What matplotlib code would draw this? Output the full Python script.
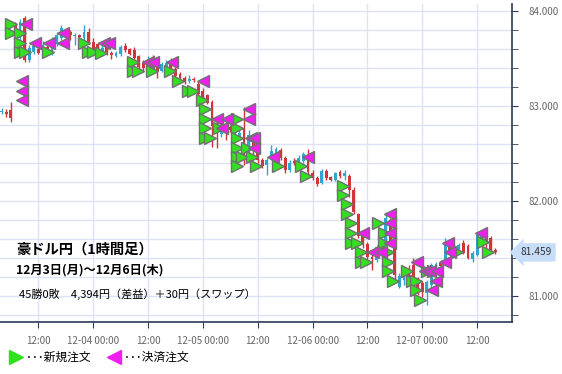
import matplotlib
matplotlib.use('Agg')
import matplotlib.pyplot as plt
from matplotlib.ticker import MultipleLocator, FormatStrFormatter
from matplotlib.transforms import blended_transform_factory
import numpy as np

# 豪ドル円 1時間足 (2018-12-03 04:00 から 1本ずつ)
opens = [82.942, 82.936, 82.958, 83.853, 83.716, 83.926, 83.484, 83.568, 83.600, 83.589,
         83.621, 83.568, 83.653, 83.716, 83.789, 83.779, 83.737, 83.747, 83.716, 83.779,
         83.674, 83.653, 83.558, 83.621, 83.558, 83.526, 83.547, 83.631, 83.600, 83.589,
         83.526, 83.452, 83.410, 83.473, 83.442, 83.368, 83.410, 83.463, 83.389, 83.337,
         83.294, 83.263, 83.284, 83.231, 83.158, 83.116, 83.042, 82.810, 82.705, 82.789,
         82.779, 82.726, 82.673, 82.768, 82.515, 82.642, 82.557, 82.431, 82.378, 82.452,
         82.484, 82.536, 82.452, 82.326, 82.421, 82.400, 82.421, 82.484, 82.294, 82.242,
         82.189, 82.315, 82.252, 82.221, 82.305, 82.263, 82.263, 82.115, 81.863, 81.631,
         81.547, 81.410, 81.378, 81.515, 81.568, 81.799, 81.557, 81.094, 81.168, 81.252,
         81.326, 81.178, 81.136, 81.031, 81.115, 81.305, 81.347, 81.347, 81.557, 81.483,
         81.483, 81.557, 81.525, 81.389, 81.431, 81.557, 81.620, 81.610, 81.483]
highs = [82.979, 82.968, 83.042, 83.884, 83.916, 83.947, 83.642, 83.663, 83.621, 83.684,
         83.653, 83.726, 83.779, 83.853, 83.810, 83.800, 83.768, 83.758, 83.853, 83.821,
         83.716, 83.674, 83.642, 83.642, 83.579, 83.579, 83.642, 83.663, 83.610, 83.621,
         83.537, 83.484, 83.526, 83.537, 83.505, 83.463, 83.484, 83.505, 83.410, 83.358,
         83.316, 83.326, 83.305, 83.252, 83.189, 83.126, 83.063, 82.852, 82.821, 82.831,
         82.800, 82.789, 82.747, 82.989, 82.747, 82.684, 82.589, 82.452, 82.452, 82.589,
         82.568, 82.557, 82.473, 82.431, 82.452, 82.484, 82.515, 82.547, 82.326, 82.263,
         82.336, 82.336, 82.263, 82.305, 82.326, 82.326, 82.284, 82.147, 81.873, 81.652,
         81.568, 81.441, 81.536, 81.631, 81.884, 81.820, 81.589, 81.242, 81.305, 81.326,
         81.399, 81.199, 81.157, 81.168, 81.347, 81.357, 81.378, 81.610, 81.578, 81.547,
         81.557, 81.589, 81.547, 81.473, 81.673, 81.694, 81.652, 81.631, 81.504]
lows = [82.915, 82.884, 82.831, 83.695, 83.695, 83.463, 83.463, 83.547, 83.547, 83.568,
        83.568, 83.537, 83.631, 83.695, 83.747, 83.695, 83.642, 83.705, 83.695, 83.653,
        83.558, 83.568, 83.526, 83.537, 83.495, 83.516, 83.526, 83.568, 83.537, 83.484,
        83.379, 83.358, 83.400, 83.379, 83.294, 83.358, 83.400, 83.379, 83.305, 83.273,
        83.231, 83.242, 83.252, 83.105, 83.073, 83.021, 82.568, 82.557, 82.673, 82.642,
        82.726, 82.694, 82.642, 82.378, 82.473, 82.431, 82.400, 82.347, 82.273, 82.431,
        82.431, 82.431, 82.294, 82.305, 82.378, 82.378, 82.400, 82.273, 82.221, 82.158,
        82.179, 82.221, 82.210, 82.210, 82.242, 82.221, 82.042, 81.863, 81.610, 81.504,
        81.378, 81.273, 81.357, 81.483, 81.547, 81.536, 81.147, 81.084, 81.115, 81.115,
        81.010, 81.010, 80.989, 80.904, 81.062, 81.294, 81.294, 81.326, 81.452, 81.462,
        81.473, 81.441, 81.389, 81.357, 81.420, 81.536, 81.504, 81.452, 81.441]
closes = [82.952, 82.915, 82.873, 83.726, 83.884, 83.484, 83.610, 83.631, 83.558, 83.642,
          83.589, 83.695, 83.747, 83.821, 83.768, 83.747, 83.747, 83.726, 83.779, 83.663,
          83.589, 83.610, 83.610, 83.568, 83.537, 83.558, 83.621, 83.589, 83.547, 83.505,
          83.410, 83.400, 83.484, 83.410, 83.358, 83.442, 83.452, 83.400, 83.316, 83.294,
          83.252, 83.284, 83.273, 83.126, 83.094, 83.031, 82.789, 82.736, 82.779, 82.726,
          82.747, 82.768, 82.715, 82.484, 82.694, 82.536, 82.431, 82.368, 82.431, 82.526,
          82.547, 82.452, 82.326, 82.400, 82.400, 82.452, 82.494, 82.305, 82.242, 82.179,
          82.315, 82.242, 82.221, 82.294, 82.263, 82.294, 82.115, 81.884, 81.631, 81.536,
          81.410, 81.389, 81.515, 81.589, 81.820, 81.557, 81.220, 81.210, 81.273, 81.147,
          81.115, 81.062, 81.041, 81.147, 81.326, 81.336, 81.315, 81.568, 81.473, 81.515,
          81.536, 81.452, 81.399, 81.452, 81.641, 81.652, 81.547, 81.462, 81.459]
first_hour = 4  # 12-03 04:00

# 新規注文 (12-03 00:00 からの経過時間, 価格)
new_hours = [6.0, 6.0, 8.0, 8.0, 8.0, 9.1, 14.1, 22.0, 22.9, 24.0,
             25.7, 32.7, 32.7, 33.8, 36.9, 40.8, 42.6, 44.8, 45.8, 47.8,
             48.5, 48.5, 48.5, 48.5, 49.6, 51.5, 55.5, 55.5, 55.5, 55.5,
             55.5, 55.5, 56.6, 57.7, 58.8, 59.6, 64.4, 69.5, 70.6, 78.7,
             78.7, 79.5, 79.5, 80.4, 80.4, 80.4, 81.7, 82.6, 82.6, 83.7,
             86.3, 87.6, 87.6, 88.5, 88.5, 88.5, 89.6, 92.7, 93.8, 94.6,
             94.6, 95.5, 97.0, 98.4, 103.6, 109.3, 110.4]
new_prices = [83.863, 83.768, 83.768, 83.663, 83.568, 83.568, 83.568, 83.663, 83.568, 83.568,
              83.558, 83.463, 83.368, 83.368, 83.368, 83.368, 83.263, 83.158, 83.158, 83.063,
              82.968, 82.863, 82.768, 82.663, 82.663, 82.768, 82.863, 82.768, 82.663, 82.558,
              82.463, 82.368, 82.463, 82.558, 82.463, 82.368, 82.368, 82.368, 82.263, 82.158,
              82.063, 81.968, 81.863, 81.768, 81.663, 81.558, 81.558, 81.463, 81.358, 81.358,
              81.768, 81.663, 81.558, 81.463, 81.358, 81.263, 81.158, 81.263, 81.158, 81.158,
              81.063, 80.958, 81.263, 81.263, 81.463, 81.568, 81.463]

# 決済注文
close_hours = [9.3, 8.4, 8.4, 8.4, 11.3, 14.3, 17.4, 17.4, 26.4, 27.5,
               36.0, 37.1, 41.3, 48.0, 51.1, 53.3, 52.2, 58.1, 58.1, 58.5,
               59.2, 59.2, 63.4, 71.0, 83.0, 85.2, 87.0, 88.9, 88.9, 88.9,
               88.9, 94.9, 96.6, 97.7, 99.2, 99.0, 98.1, 101.0, 101.6, 102.1,
               108.9]
close_prices = [83.863, 83.263, 83.158, 83.063, 83.663, 83.663, 83.768, 83.663, 83.663, 83.663,
                83.463, 83.463, 83.463, 83.263, 82.863, 82.863, 82.768, 82.968, 82.863, 82.663,
                82.663, 82.558, 82.463, 82.463, 81.663, 81.463, 81.463, 81.863, 81.768, 81.663,
                81.558, 81.358, 81.263, 81.263, 81.263, 81.158, 81.063, 81.358, 81.558, 81.463,
                81.663]

tick_labels = ['12:00', '12-04 00:00', '12:00', '12-05 00:00', '12:00',
               '12-06 00:00', '12:00', '12-07 00:00', '12:00']
last_price = 81.459

plt.rcParams['font.family'] = ['Noto Sans CJK JP', 'DejaVu Sans']

W, H = 562, 374
fig = plt.figure(figsize=(W / 100, H / 100), dpi=100)
ax = fig.add_axes([0, 1 - 322 / H, 512 / W, 318 / H])

up_col = '#2fa5cf'
dn_col = '#d03538'
hours = np.arange(first_hour, first_hour + len(closes))
o = np.array(opens); c = np.array(closes)
cols = [up_col if cc >= oo else dn_col for oo, cc in zip(o, c)]
ax.vlines(hours, lows, highs, colors=cols, linewidth=1, zorder=3)
body = np.maximum(np.abs(c - o), 0.008)
ax.bar(hours, body, bottom=np.minimum(o, c), width=0.62, color=cols, zorder=3)

ax.plot(new_hours, new_prices, linestyle='none', marker='>', ms=8.3,
        mfc='#33e01f', mec='#707070', mew=1, zorder=5)
ax.plot(close_hours, close_prices, linestyle='none', marker='<', ms=8.3,
        mfc='#f01ff0', mec='#707070', mew=1, zorder=5)

ax.set_xlim(3.62, 115.63)
ax.set_ylim(80.726, 84.074)
ax.set_xticks(np.arange(12, 12 * (len(tick_labels) + 1), 12))
ax.set_xticklabels(tick_labels)

ax.yaxis.tick_right()
ax.yaxis.set_major_locator(MultipleLocator(1.0))
ax.yaxis.set_minor_locator(MultipleLocator(0.2))
ax.yaxis.set_major_formatter(FormatStrFormatter('%.3f'))
ax.tick_params(axis='both', which='both', length=4, color='#2b3a55',
               labelsize=7, labelcolor='#666666')
ax.tick_params(axis='y', pad=8)
ax.tick_params(axis='x', pad=6)

ax.grid(True, which='major', axis='x', color='#dde2f7', linewidth=1)
ax.grid(True, which='both', axis='y', color='#dde2f7', linewidth=1)
ax.set_axisbelow(True)
for s in ['top', 'left']:
    ax.spines[s].set_visible(False)
for s in ['bottom', 'right']:
    ax.spines[s].set_color('#2b3a55')
    ax.spines[s].set_linewidth(1.2)

# 現在値ラベル
tr = blended_transform_factory(ax.transAxes, ax.transData)
ax.text(1.016, last_price, '%.3f' % last_price, transform=tr, ha='left', va='center',
        fontsize=7.3, color='#333333', clip_on=False,
        bbox=dict(boxstyle='larrow,pad=0.42', fc='#c8ddf7', ec='none'))

# チャート内の見出し
fig.text(16 / W, 1 - 250 / H, '豪ドル円（1時間足）', fontsize=10.3, fontweight='bold',
         va='center', ha='left')
fig.text(16 / W, 1 - 270 / H, '12月3日(月)～12月6日(木)', fontsize=8.8, fontweight='bold',
         va='center', ha='left')
fig.text(19 / W, 1 - 294 / H, '45勝0敗　4,394円（差益）＋30円（スワップ）', fontsize=8,
         va='center', ha='left')

# 凡例
ly = 1 - 357 / H
fig.add_artist(plt.Line2D([16 / W], [ly], marker='>', ms=10, color='#33e01f',
                          linestyle='none', transform=fig.transFigure))
fig.text(26 / W, ly, '･･･新規注文', fontsize=8.5, va='center', ha='left')
fig.add_artist(plt.Line2D([114 / W], [ly], marker='<', ms=10, color='#f01ff0',
                          linestyle='none', transform=fig.transFigure))
fig.text(124 / W, ly, '･･･決済注文', fontsize=8.5, va='center', ha='left')

fig.savefig('out.png', dpi=100)
